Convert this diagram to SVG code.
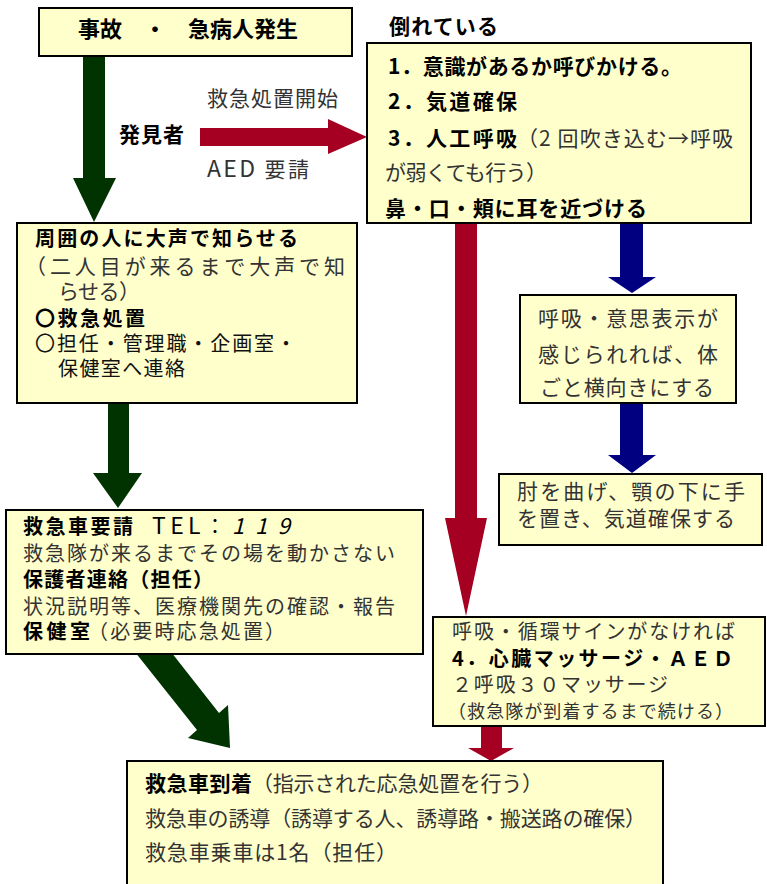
<svg xmlns="http://www.w3.org/2000/svg" width="767" height="884" viewBox="0 0 767 884">
<style>
.box{fill:#FFFFCC;stroke:#000;stroke-width:2}
text{font-family:"Noto Sans CJK JP","Noto Sans CJK SC",sans-serif;font-size:20px;fill:#333}
.b{font-weight:bold;fill:#000}
.g{fill:#003300}
.r{fill:#A50021}
.n{fill:#000080}
.L{font-size:23px}
</style>
<rect width="767" height="884" fill="#fff"/>
<g id="connectors">
  <polygon class="g" points="83,56 105,56 105,178 116,178 94,222 73,178 83,178"/>
  <polygon class="r" points="200,128 328,128 328,119 367,137 328,154 328,146 200,146"/>
  <polygon class="r" points="455,223 477,223 477,518 487,518 466,616 445,518 455,518"/>
  <polygon class="n" points="620,223 643,223 643,277 656,277 632,293 608,277 620,277"/>
  <polygon class="n" points="620,403 643,403 643,455 656,455 632,473 608,455 620,455"/>
  <polygon class="g" points="108,403 129,403 129,473 142,473 118,508 93,473 108,473"/>
  <polygon class="g" points="131,647 153,629 219,713 228,705 230,748 188,738 197,730"/>
  <polygon class="r" points="481,726 502,726 502,748 514,748 491,761 468,748 481,748"/>
  <text x="207" y="106" textLength="131" style="font-size:21px">救急処置開始</text>
  <text class="b" x="119" y="142" textLength="65" style="font-size:21px">発見者</text>
  <text x="207" y="177" textLength="102" style="font-size:21px"><tspan class="L">AED</tspan> 要請</text>
</g>
<g id="n1">
  <rect class="box" x="39" y="8" width="313" height="48"/>
  <text class="b" style="font-size:22px" x="78" y="37" textLength="44">事故</text>
  <text class="b" style="font-size:22px" x="155" y="37" text-anchor="middle">・</text>
  <text class="b" style="font-size:22px" x="188" y="37" textLength="110">急病人発生</text>
</g>
<g id="n2">
  <text class="b" x="389" y="34" textLength="109" style="font-size:21px">倒れている</text>
  <rect class="box" x="367" y="43" width="384" height="180"/>
  <text class="b" x="388" y="74" textLength="294" style="font-size:21px">1．意識があるか呼びかける。</text>
  <text class="b" x="388" y="109" textLength="129" style="font-size:21px">2．気道確保</text>
  <text class="b" x="388" y="146" textLength="129" style="font-size:21px">3．人工呼吸</text>
  <text x="517" y="146" textLength="216" style="font-size:21px">（2 回吹き込む→呼吸</text>
  <text x="385" y="180" textLength="162" style="font-size:21px">が弱くても行う）</text>
  <text class="b" x="385" y="216" textLength="262" style="font-size:21px">鼻・口・頬に耳を近づける</text>
</g>
<g id="n3">
  <rect class="box" x="17" y="223" width="340" height="180"/>
  <text class="b" x="35" y="246" textLength="263">周囲の人に大声で知らせる</text>
  <text x="25" y="274" textLength="320" style="font-size:21px">（二人目が来るまで大声で知</text>
  <text x="58" y="299" textLength="82" style="font-size:21px">らせる）</text>
  <text class="b" x="35" y="326" textLength="110">〇救急処置</text>
  <text x="35" y="351" textLength="261" style="fill:#111">〇担任・管理職・企画室・</text>
  <text x="58" y="376" textLength="127" style="fill:#111">保健室へ連絡</text>
</g>
<g id="n4">
  <rect class="box" x="520" y="295" width="216" height="108"/>
  <text x="538" y="326" textLength="180" style="font-size:21px">呼吸・意思表示が</text>
  <text x="538" y="362" textLength="180" style="font-size:21px">感じられれば、体</text>
  <text x="540" y="395" textLength="174" style="font-size:21px">ごと横向きにする</text>
</g>
<g id="n5">
  <rect class="box" x="499" y="474" width="263" height="71"/>
  <text x="517" y="499" textLength="228" style="font-size:21px">肘を曲げ、顎の下に手</text>
  <text x="517" y="526" textLength="218" style="font-size:21px">を置き、気道確保する</text>
</g>
<g id="n6">
  <rect class="box" x="6" y="510" width="417" height="144"/>
  <text class="b" x="23" y="534" textLength="110">救急車要請</text>
  <text x="152" y="534" textLength="73" style="fill:#000"><tspan class="L">TEL</tspan>：</text>
  <text x="232" y="534" textLength="58" style="font-style:italic;fill:#000;font-size:22px">119</text>
  <text x="23" y="561" textLength="372">救急隊が来るまでその場を動かさない</text>
  <text class="b" x="23" y="587" textLength="190">保護者連絡（担任）</text>
  <text x="23" y="614" textLength="372">状況説明等、医療機関先の確認・報告</text>
  <text class="b" x="23" y="639" textLength="67">保健室</text>
  <text x="88" y="639" textLength="197">（必要時応急処置）</text>
</g>
<g id="n7">
  <rect class="box" x="433" y="617" width="332" height="109"/>
  <text x="452" y="639" textLength="283">呼吸・循環サインがなければ</text>
  <text class="b" x="452" y="666" textLength="281">4．心臓マッサージ・ＡＥＤ</text>
  <text x="452" y="692" textLength="216">２呼吸３０マッサージ</text>
  <text x="448" y="718" textLength="285" style="font-size:18px">（救急隊が到着するまで続ける）</text>
</g>
<g id="n8">
  <rect class="box" x="127" y="761" width="536" height="140"/>
  <text class="b" x="145" y="791" textLength="107" style="font-size:21px">救急車到着</text>
  <text x="252" y="791" textLength="291" style="font-size:21px">（指示された応急処置を行う）</text>
  <text x="145" y="826" textLength="501" style="font-size:21px">救急車の誘導（誘導する人、誘導路・搬送路の確保）</text>
  <text x="145" y="860" textLength="252" style="font-size:21px">救急車乗車は1名（担任）</text>
</g>
</svg>
